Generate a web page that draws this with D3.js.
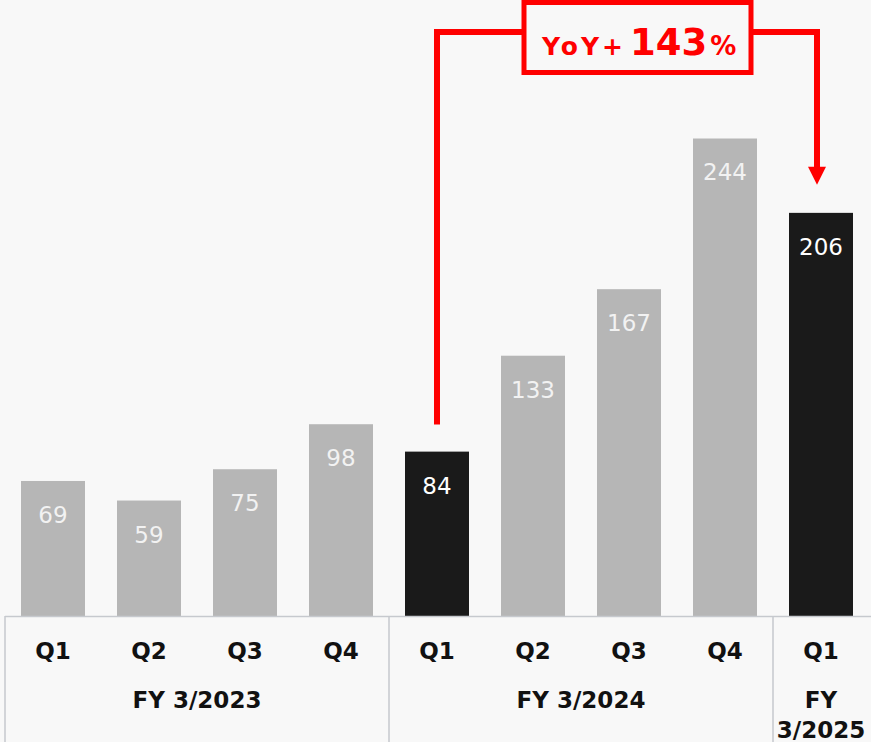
<!DOCTYPE html>
<html>
<head>
<meta charset="utf-8">
<script src="https://cdn.jsdelivr.net/npm/d3@7"></script>
<style>
  html, body { margin: 0; padding: 0; background: #f8f8f8; }
  svg { display: block; }
</style>
</head>
<body>
<div id="chart"></div>
<script>
// data
const quarters = ['Q1', 'Q2', 'Q3', 'Q4', 'Q1', 'Q2', 'Q3', 'Q4', 'Q1']
const values = [69, 59, 75, 98, 84, 133, 167, 244, 206]
const highlighted = [false, false, false, false, true, false, false, false, true]
const fiscalYears = [
    { label: ['FY 3/2023'], from: 0, to: 3 },
    { label: ['FY 3/2024'], from: 4, to: 7 },
    { label: ['FY', '3/2025'], from: 8, to: 8 }
]
const yoyLabel = 'YoY+'
const yoyValue = '143'

const width = 871, height = 742
const baseY = 616

const svg = d3.select('#chart')
    .append('svg')
    .attr('width', width)
    .attr('height', height)

svg.append('rect')
    .attr('width', width)
    .attr('height', height)
    .attr('fill', '#f8f8f8')

const idx = d3.range(values.length)
const xScale = d3.scaleBand()
    .domain(idx)
    .range([5, 869])
    .paddingInner(1 / 3)
    .paddingOuter(1 / 6)

const yScale = d3.scaleLinear()
    .domain([0, 250])
    .range([baseY, baseY - 250 * 1.957])

// bars
svg.selectAll('.bar')
    .data(values)
    .enter()
    .append('rect')
    .attr('class', 'bar')
    .attr('x', (d, i) => xScale(i))
    .attr('y', d => yScale(d))
    .attr('width', xScale.bandwidth())
    .attr('height', d => baseY - yScale(d))
    .attr('fill', (d, i) => highlighted[i] ? '#1a1a1a' : '#b6b6b6')

// value labels
svg.selectAll('.val')
    .data(values)
    .enter()
    .append('text')
    .attr('class', 'val')
    .attr('x', (d, i) => xScale(i) + xScale.bandwidth() / 2)
    .attr('y', d => yScale(d) + 42)
    .attr('text-anchor', 'middle')
    .style('font-family', 'DejaVu Sans, sans-serif')
    .style('font-size', '23px')
    .attr('fill', (d, i) => highlighted[i] ? '#ffffff' : '#f2f2f2')
    .text(d => d)

// category table
const lineColor = '#c6c9ce'
const tbl = svg.append('g')
tbl.append('line')
    .attr('x1', 5).attr('x2', width)
    .attr('y1', baseY + 0.5).attr('y2', baseY + 0.5)
    .attr('stroke', lineColor).attr('stroke-width', 1.5)
const step = xScale.step()
const edges = [5, 5 + step * 4, 5 + step * 8]
edges.forEach(x => {
    tbl.append('line')
        .attr('x1', x).attr('x2', x)
        .attr('y1', baseY).attr('y2', height)
        .attr('stroke', lineColor).attr('stroke-width', 1.5)
})

tbl.selectAll('.q')
    .data(quarters)
    .enter()
    .append('text')
    .attr('x', (d, i) => xScale(i) + xScale.bandwidth() / 2)
    .attr('y', 659)
    .attr('text-anchor', 'middle')
    .style('font-family', 'DejaVu Sans, sans-serif')
    .style('font-size', '23px')
    .style('font-weight', 'bold')
    .attr('fill', '#111')
    .text(d => d)

fiscalYears.forEach(fy => {
    const cx = (xScale(fy.from) + xScale(fy.to) + xScale.bandwidth()) / 2
    fy.label.forEach((t, k) => {
        tbl.append('text')
            .attr('x', cx)
            .attr('y', 708 + k * 30)
            .attr('text-anchor', 'middle')
            .style('font-family', 'DejaVu Sans, sans-serif')
            .style('font-size', '23px')
            .style('font-weight', 'bold')
            .attr('fill', '#111')
            .text(t)
    })
})

// YoY annotation
const red = '#ff0000'
const fromX = xScale(4) + xScale.bandwidth() / 2
const toX = xScale(8) + xScale.bandwidth() / 2 - 4
const topY = 32
const path = d3.path()
path.moveTo(fromX, yScale(values[4]) - 27)
path.lineTo(fromX, topY)
path.lineTo(toX, topY)
path.lineTo(toX, yScale(values[8]) - 44)
svg.append('path')
    .attr('d', path.toString())
    .attr('fill', 'none')
    .attr('stroke', red)
    .attr('stroke-width', 6)

const tipY = yScale(values[8]) - 28
svg.append('path')
    .attr('d', `M${toX - 9},${tipY - 18}L${toX + 9},${tipY - 18}L${toX},${tipY}Z`)
    .attr('fill', red)

svg.append('rect')
    .attr('x', 524)
    .attr('y', 2.5)
    .attr('width', 227)
    .attr('height', 70)
    .attr('fill', '#f8f8f8')
    .attr('stroke', red)
    .attr('stroke-width', 5)

const yoy = svg.append('text')
    .attr('x', 542)
    .attr('y', 55)
    .style('font-family', 'DejaVu Sans, sans-serif')
    .style('font-weight', 'bold')
    .attr('fill', red)
yoy.append('tspan').style('font-size', '25px').style('letter-spacing', '3px').text(yoyLabel)
yoy.append('tspan').style('font-size', '37px').attr('dx', 4).text(yoyValue)
yoy.append('tspan').style('font-size', '26px').style('letter-spacing', '2px').attr('dx', 3).text('%')
</script>
</body>
</html>
